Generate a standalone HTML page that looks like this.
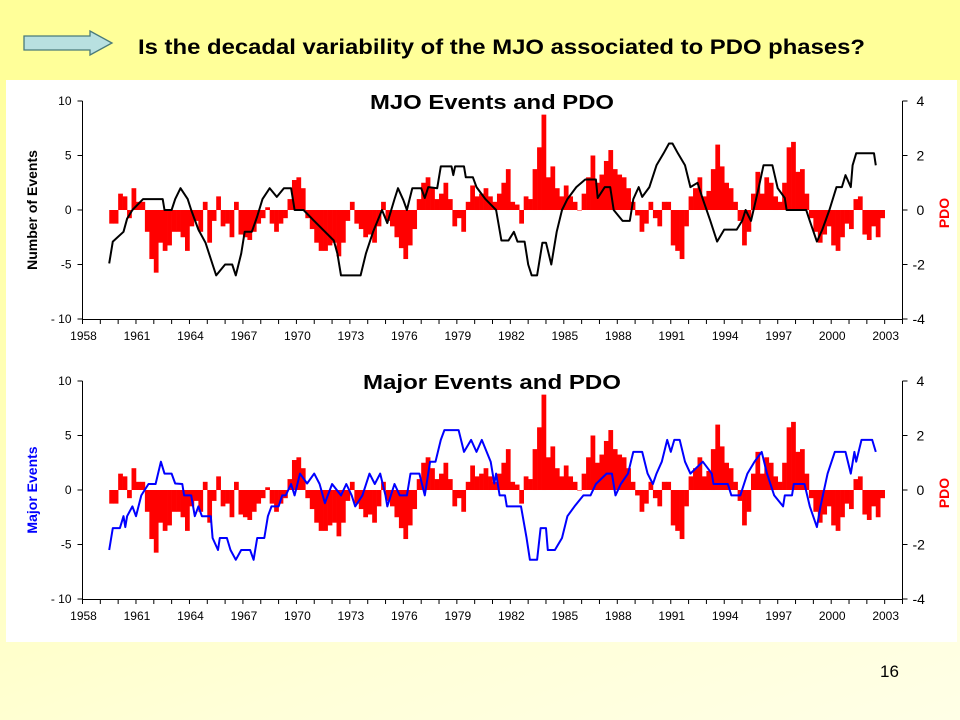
<!DOCTYPE html>
<html><head><meta charset="utf-8">
<style>
html,body{margin:0;padding:0}
body{width:960px;height:720px;overflow:hidden;position:relative;background:linear-gradient(160deg,#ffff99 0%,#ffffb0 30%,#ffffd8 75%,#ffffe6 100%);font-family:"Liberation Sans",sans-serif}
#hdr{position:absolute;left:0;top:0;width:960px;height:80px;background:#ffff99}
#panel{position:absolute;left:6px;top:80px;width:951px;height:562px;background:#fff}
#pg{position:absolute;left:880px;top:662px;font-size:17px}
svg{position:absolute;left:0;top:0}
</style></head><body>
<div id="hdr"></div>
<div id="panel"></div>
<svg width="960" height="720" id="arrowsvg">
<polygon points="24,36 90,36 90,31 112,43 90,55 90,50 24,50" fill="#b8e0e0" stroke="#4a7a7a" stroke-width="1.3"/>
</svg>
<svg width="960" height="80">
<text x="138" y="54" font-size="21" font-weight="bold" textLength="727" lengthAdjust="spacingAndGlyphs">Is the decadal variability of the MJO associated to PDO phases?</text>
</svg>
<div id="pg">16</div>
<svg width="960" height="720" id="chart"></svg>
<script>
// PDO quarterly values starting 1959.5
const pdoStart = 1959.5;
const pdoValues = [
-0.5,-0.5,0.6,
0.5,-0.3,0.8,0.3,
0.3,-0.8,-1.8,-2.3,
-1.2,-1.5,-1.3,-0.8,
-0.8,-1.0,-1.5,-0.6,
-0.4,-0.8,0.3,-1.2,
-0.4,0.5,-0.6,-0.5,
-1.0,0.3,-0.9,-1.0,
-1.1,-0.8,-0.5,-0.3,
0.1,-0.5,-0.8,-0.5,
-0.3,0.4,1.1,1.2,
0.8,-0.3,-0.7,-1.2,
-1.5,-1.5,-1.3,-1.2,
-1.7,-1.2,-0.4,0.3,
-0.5,-0.7,-1.0,-0.9,
-1.2,-0.6,0.3,-0.4,
-0.6,-1.0,-1.4,-1.8,
-1.3,-0.7,0.4,1.0,
1.2,0.8,0.4,0.6,
1.0,0.4,-0.6,-0.3,
-0.8,0.3,0.9,0.5,
0.6,0.8,0.5,0.3,
0.6,1.0,1.5,0.3,
0.2,-0.5,0.5,0.4,
1.5,2.3,3.5,1.2,
1.6,0.8,0.5,0.9,
0.5,0.3,0.0,0.6,
1.2,2.0,1.0,1.3,
1.8,2.2,1.5,1.3,
1.2,0.8,0.3,-0.2,
-0.8,-0.5,0.3,-0.3,
-0.6,0.3,0.3,-1.3,
-1.5,-1.8,-0.6,0.5,
0.8,1.2,0.5,0.7,
1.5,2.4,1.6,1.0,
0.8,0.3,-0.4,-1.3,
-0.8,0.6,1.4,0.6,
1.2,1.0,0.5,0.3,
1.0,2.3,2.5,1.4,
1.5,0.6,-0.3,-0.8,
-1.2,-0.9,-0.6,-1.3,
-1.5,-1.0,-0.5,-0.7,
0.4,0.5,-0.9,-1.1,
-0.6,-1.0,-0.3];
const mjoYears = [1959.5,1959.7,1960.3,1960.5,1960.8,1961.4,1962.5,1962.6,1963.0,1963.2,1963.5,1963.9,1964.1,1964.5,1964.9,1965.3,1965.5,1966.0,1966.4,1966.6,1966.9,1967.1,1967.5,1967.8,1968.1,1968.5,1968.9,1969.3,1969.7,1969.9,1970.4,1971.0,1972.1,1972.3,1972.5,1973.6,1973.9,1974.3,1974.8,1975.1,1975.5,1975.7,1976.0,1976.2,1976.5,1977.0,1977.2,1977.4,1977.9,1978.1,1978.7,1978.8,1978.9,1979.4,1979.5,1979.9,1980.1,1980.6,1981.2,1981.5,1981.9,1982.2,1982.4,1982.8,1983.0,1983.2,1983.5,1983.8,1984.0,1984.3,1984.6,1984.9,1985.2,1985.7,1986.2,1986.8,1986.9,1987.3,1987.6,1987.8,1988.3,1988.7,1988.9,1989.2,1989.4,1989.8,1990.2,1990.6,1990.9,1991.1,1991.4,1991.8,1992.1,1992.5,1992.8,1993.2,1993.6,1994.0,1994.7,1995.0,1995.2,1995.5,1995.9,1996.2,1996.7,1997.0,1997.4,1997.5,1998.6,1998.8,1999.2,1999.5,1999.9,2000.3,2000.6,2000.8,2001.1,2001.2,2001.4,2002.4,2002.5];
const mjoValues = [-4.9,-2.9,-2,-0.8,0,1,1,0,0,1,2,1,0,-1.8,-3,-5,-6,-5,-5,-6,-4,-2,-2,-0.6,1,2,1.2,2,2,0,0,-1,-2.8,-4,-6,-6,-4,-2,0,-1.2,1,2,0.9,0,2,2,1.1,2.1,2,4,4,3.2,4,4,3,3,2.1,1,0,-2.8,-2.8,-2,-2.9,-2.9,-5,-6,-6,-3,-3,-5,-2,0,1,2.1,2.8,2.8,1.1,2.1,2.1,0,-1,-1,1,2.1,1.2,2.1,4.1,5.2,6.1,6.1,5.2,4.1,2.1,2.5,1,-0.9,-2.9,-1.8,-1.8,-1,0,-1,1.8,4.1,4.1,2,1.1,0,0,-1,-2.9,-1.8,0,2.1,2.1,3.2,2.1,4.1,5.2,5.2,4.1];
const majYears = [1959.5,1959.7,1960.1,1960.3,1960.4,1960.5,1960.8,1961.0,1961.3,1961.7,1962.1,1962.4,1962.6,1963.0,1963.2,1963.6,1963.7,1964.1,1964.3,1964.5,1964.7,1965.2,1965.3,1965.6,1965.7,1966.1,1966.3,1966.6,1966.9,1967.4,1967.6,1967.8,1968.2,1968.4,1968.6,1969.0,1969.2,1969.4,1969.7,1969.9,1970.2,1970.6,1971.0,1971.3,1971.6,1972.0,1972.5,1972.8,1973.1,1973.3,1973.7,1974.1,1974.4,1974.7,1975.0,1975.1,1975.5,1975.8,1976.2,1976.4,1976.9,1977.2,1977.5,1977.8,1978.1,1978.3,1979.1,1979.4,1979.8,1980.1,1980.4,1980.9,1981.1,1981.2,1981.4,1981.7,1981.8,1982.6,1982.9,1983.1,1983.5,1983.7,1984.0,1984.1,1984.5,1984.9,1985.2,1985.6,1986.1,1986.5,1986.8,1987.4,1987.7,1987.9,1988.2,1988.6,1988.9,1989.4,1989.7,1990.0,1990.2,1990.5,1990.8,1991.0,1991.2,1991.5,1991.8,1992.1,1992.8,1993.3,1993.4,1994.2,1994.4,1994.9,1995.3,1995.7,1996.1,1996.4,1996.8,1997.3,1997.4,1997.8,1997.9,1998.5,1998.8,1999.2,1999.4,1999.8,2000.2,2000.8,2001.1,2001.3,2001.4,2001.7,2002.3,2002.5];
const majValues = [-5.5,-3.5,-3.5,-2.4,-3.4,-2.4,-1.5,-2.4,-0.5,0.55,0.55,2.6,1.5,1.5,0.6,0.55,-0.5,-0.5,-2.4,-1.5,-2.4,-2.4,-4.4,-5.5,-4.4,-4.4,-5.5,-6.4,-5.5,-5.5,-6.4,-4.4,-4.4,-2.4,-1.5,-1.5,-0.5,-0.5,0.55,-0.5,1.5,0.6,1.5,0.55,-1.2,0.55,-0.5,0.55,-0.5,-1.5,-0.5,1.5,0.55,1.5,-0.5,-1.5,0.55,-0.5,-0.5,1.5,1.5,-0.5,2.6,2.6,4.6,5.5,5.5,3.5,4.6,3.5,4.6,2.6,0.6,1.5,-0.5,-0.5,-1.5,-1.5,-4.3,-6.4,-6.4,-3.5,-3.5,-5.5,-5.5,-4.4,-2.4,-1.5,-0.5,-0.5,0.55,1.5,1.5,-0.5,0.55,1.5,3.5,3.5,1.5,0.55,1.5,2.6,4.6,3.5,4.6,4.6,2.6,1.5,2.6,1.5,0.55,0.55,-0.5,-0.5,1.5,2.6,3.5,1.5,-0.5,-1.5,-0.5,-0.5,0.55,0.55,-1.5,-3.4,-1.5,1.5,3.5,3.5,1.5,3.5,2.6,4.6,4.6,3.5];
const yearTicks = [1958,1961,1964,1967,1970,1973,1976,1979,1982,1985,1988,1991,1994,1997,2000,2003];
const leftTicks = [10,5,0,-5,-10];
const rightTicks = [4,2,0,-2,-4];

const NS='http://www.w3.org/2000/svg';
const svg=document.getElementById('chart');
const X0=82.5, X1=902.5, Y0=1958, Y1=2004;
function xs(y){return X0+(y-Y0)*(X1-X0)/(Y1-Y0);}
function el(tag,attrs,parent){const e=document.createElementNS(NS,tag);for(const k in attrs)e.setAttribute(k,attrs[k]);(parent||svg).appendChild(e);return e;}
function txt(s,attrs,parent){const e=el('text',attrs,parent);e.textContent=s;return e;}

function drawChart(top,title,titleLen,lineYears,lineVals,lineColor,leftTitle,leftColor,key){
  const bot=top+218;
  const g=el('g',{});
  
  
  const yl=v=>top+(10-v)*(bot-top)/20;
  const yr=v=>top+(4-v)*(bot-top)/8;
  const bw=(X1-X0)/(Y1-Y0)/4;
  pdoValues.forEach((v,i)=>{
    const yr0=pdoStart+i*0.25;
    const y=Math.min(yr(v),yr(0)), h=Math.abs(yr(v)-yr(0));
    const r=el('rect',{x:xs(yr0).toFixed(2),y:y.toFixed(2),width:(bw+0.3).toFixed(2),height:Math.max(h,0.5).toFixed(2),fill:'#ff0000'},g);
    
    
  });
  const pts=lineYears.map((y,i)=>xs(y).toFixed(1)+','+yl(lineVals[i]).toFixed(1)).join(' ');
  const pl=el('polyline',{points:pts,fill:'none',stroke:lineColor,'stroke-width':2,'stroke-linejoin':'round'},g);
  
  
  el('line',{x1:X0,y1:top,x2:X0,y2:bot,stroke:'#000','stroke-width':1},g);
  el('line',{x1:X1,y1:top,x2:X1,y2:bot,stroke:'#000','stroke-width':1},g);
  el('line',{x1:X0,y1:bot+0.5,x2:X1,y2:bot+0.5,stroke:'#000','stroke-width':1},g);
  for(let y=Y0;y<=Y1;y++){el('line',{x1:xs(y),y1:bot,x2:xs(y),y2:bot+5,stroke:'#000'},g);}
  yearTicks.forEach(y=>{const t=txt(String(y),{x:xs(y)+1,y:bot+21,'font-size':12,'text-anchor':'middle'},g);
    });
  leftTicks.forEach(v=>{el('line',{x1:X0-5,y1:yl(v),x2:X0,y2:yl(v),stroke:'#000'},g);
    const t=txt(v===-10?'- 10':String(v),{x:X0-11,y:yl(v)+4,'font-size':12,'text-anchor':'end'},g);
    });
  rightTicks.forEach(v=>{el('line',{x1:X1,y1:yr(v),x2:X1+5,y2:yr(v),stroke:'#000'},g);
    const t=txt(String(v),{x:v<0?X1+10:X1+14,y:yr(v)+5,'font-size':14},g);
    });
  const tt=txt(title,{x:492-titleLen/2,y:top+8,'font-size':20,'font-weight':'bold',textLength:titleLen,lengthAdjust:'spacingAndGlyphs'},g);
  
  const lt=txt(leftTitle,{x:0,y:0,'font-size':14,'font-weight':'bold',fill:leftColor,'text-anchor':'middle',transform:`translate(37,${(top+bot)/2}) rotate(-90)`},g);
  
  const rt=txt('PDO',{x:0,y:0,'font-size':14,'font-weight':'bold',fill:'#ff0000','text-anchor':'middle',transform:`translate(949,${(top+bot)/2+3}) rotate(-90)`},g);
  
}
drawChart(101,'MJO Events and PDO',244,mjoYears,mjoValues,'#000000','Number of Events','#000000','mjo');
drawChart(381,'Major Events and PDO',258,majYears,majValues,'#0000ff','Major Events','#0000ff','major');
</script>
</body></html>
